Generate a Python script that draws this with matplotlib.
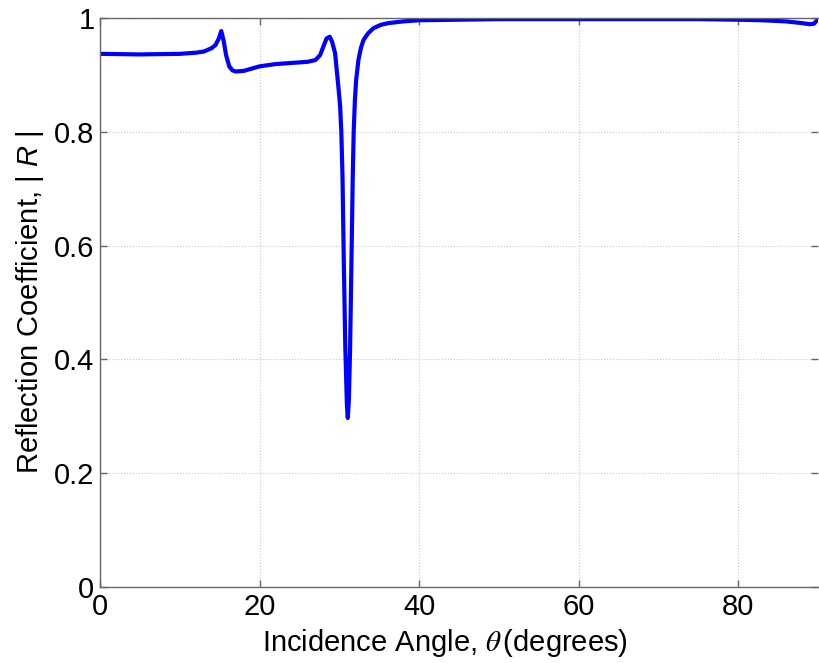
import matplotlib
matplotlib.use("Agg")
import matplotlib.pyplot as plt

angle_deg = [0, 5, 10, 12, 13, 14, 14.5, 14.9, 15.2, 15.5, 15.8, 16.2, 16.6, 17.0, 18, 19, 20, 22, 24, 26, 27, 27.6,
             28.0, 28.4, 28.8, 29.1, 29.47, 29.88, 30.1, 30.25, 30.4, 30.55, 30.75, 30.95, 31.06, 31.2, 31.35,
             31.55, 31.68, 31.8, 31.95, 32.1, 32.39, 32.7, 33.02, 33.6, 34.27, 35.2, 36.15, 38, 40, 45, 50, 55, 60,
             65, 70, 75, 80, 83, 86, 88, 89, 89.5, 90]
reflection = [0.937, 0.936, 0.937, 0.939, 0.941, 0.947, 0.953, 0.964, 0.977, 0.960, 0.935, 0.915, 0.908, 0.906,
              0.907, 0.911, 0.915, 0.919, 0.921, 0.923, 0.926, 0.935,
              0.950, 0.964, 0.967, 0.958, 0.938, 0.879, 0.845, 0.80, 0.72, 0.58, 0.42, 0.32, 0.297, 0.33, 0.42,
              0.60, 0.72, 0.80, 0.855, 0.89, 0.926, 0.947, 0.961, 0.973, 0.982, 0.988, 0.991, 0.994, 0.996, 0.997,
              0.998, 0.998, 0.998, 0.998, 0.998, 0.998, 0.997, 0.996, 0.994, 0.991, 0.989, 0.990, 0.998]

xticks = [0, 20, 40, 60, 80]
yticks = [0, 0.2, 0.4, 0.6, 0.8, 1]
ytick_labels = ["0", "0.2", "0.4", "0.6", "0.8", "1"]

plt.rcParams['font.family'] = ['Liberation Sans', 'DejaVu Sans']
plt.rcParams['mathtext.fontset'] = 'custom'
plt.rcParams['mathtext.it'] = 'Liberation Sans:italic'
plt.rcParams['mathtext.rm'] = 'Liberation Sans'

fig = plt.figure(figsize=(8.19, 6.63), dpi=100)
ax = fig.add_axes([100/819, 1-587/663, 718/819, (587-18)/663])
ax.plot(angle_deg, reflection, color=(0, 0, 1), lw=3, solid_joinstyle='round')
ax.set_xlim(0, 90)
ax.set_ylim(0, 1)
ax.set_xticks(xticks)
ax.set_xticklabels([str(t) for t in xticks])
ax.set_yticks(yticks)
ax.set_yticklabels(ytick_labels)
ax.grid(True, linestyle=':', color='#c8c8c8', linewidth=0.8)
ax.tick_params(direction='in', length=5, width=1, color='#666666', labelsize=21,
               top=True, right=True, pad=4)
for s in ax.spines.values():
    s.set_color('#666666')
    s.set_linewidth(1)
ax.spines['right'].set_visible(False)
ax.set_xlabel(r"Incidence Angle, $\theta\,$(degrees)", fontsize=21, labelpad=2, math_fontfamily='stix')
ax.xaxis.set_label_coords(0.48, -0.07)
ax.set_ylabel(r"Reflection Coefficient, | $R$ |", fontsize=21, labelpad=6)
fig.savefig("out.png", dpi=100)
